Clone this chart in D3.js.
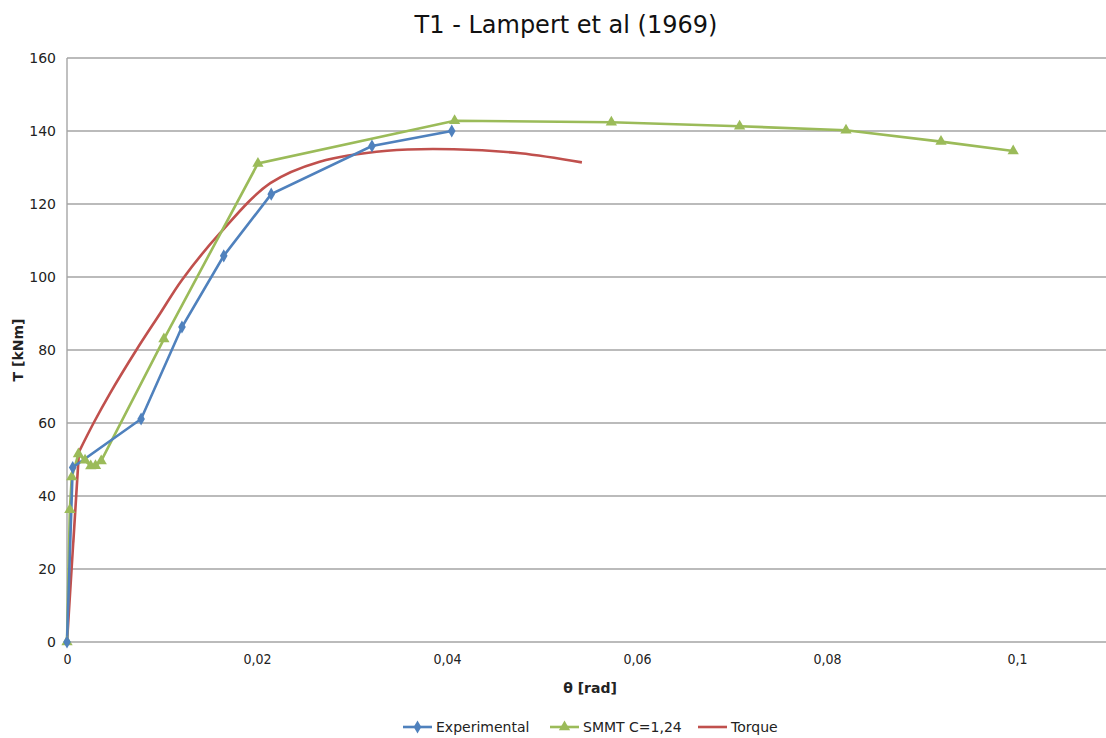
<!DOCTYPE html>
<html>
<head>
<meta charset="utf-8">
<script src="https://cdn.jsdelivr.net/npm/d3@7/dist/d3.min.js"></script>
<style>
  html, body { margin: 0; padding: 0; background: #fff; }
  svg { display: block; font-family: "DejaVu Sans", Verdana, sans-serif; }
</style>
</head>
<body>
<svg id="chart" width="1106" height="738"></svg>
<script>
// Rotation θ [rad] and torque T [kNm] for beam T1
const experimentalTheta = [0, 0.0006, 0.0078, 0.0121, 0.0165, 0.0215, 0.0321, 0.0405];
const experimentalT     = [0, 47.8, 61.1, 86.3, 105.8, 122.7, 135.9, 140.0];

const smmtTheta = [0, 0.0003, 0.0005, 0.0012, 0.0019, 0.0025, 0.0030, 0.0036, 0.0102, 0.0201, 0.0408, 0.0573, 0.0708, 0.0820, 0.0920, 0.0996];
const smmtT     = [0, 36.2, 45.2, 51.5, 49.8, 48.2, 48.3, 49.6, 83.0, 131.1, 142.8, 142.4, 141.3, 140.2, 137.1, 134.5];

const torqueTheta = [0, 0.00126, 0.0028, 0.0045, 0.0073, 0.0098, 0.0121, 0.0161, 0.0214, 0.0266, 0.0337, 0.0407, 0.0477, 0.0542];
const torqueT     = [0, 52.1, 60.0, 68.0, 80.0, 90.0, 99.2, 112.0, 125.7, 131.6, 134.6, 135.0, 133.9, 131.4];

const xTicks = [0, 0.02, 0.04, 0.06, 0.08, 0.1];
const yTicks = [0, 20, 40, 60, 80, 100, 120, 140, 160];

const seriesNames = ["Experimental", "SMMT C=1,24", "Torque"];
const colors = { blue: "#4f81bd", green: "#9bbb59", red: "#c0504d" };

const zip = (xs, ys) => xs.map((x, i) => ({ x, y: ys[i] }));
const experimental = zip(experimentalTheta, experimentalT);
const smmt = zip(smmtTheta, smmtT);
const torque = zip(torqueTheta, torqueT);

const svg = d3.select("#chart");
const plotLeft = 67, plotRight = 1112, plotTop = 58, plotBottom = 642;

const x = d3.scaleLinear().domain([0, 0.11]).range([plotLeft, plotRight]);
const y = d3.scaleLinear().domain([0, 160]).range([plotBottom, plotTop]);
const comma = d => d3.format("~g")(d).replace(".", ",");

// horizontal gridlines
svg.append("g")
  .selectAll("line")
  .data(yTicks)
  .join("line")
  .attr("x1", plotLeft).attr("x2", 1106)
  .attr("y1", d => y(d)).attr("y2", d => y(d))
  .attr("stroke", "#a5a5a5").attr("stroke-width", 1.4);

// vertical axis line
svg.append("line")
  .attr("x1", plotLeft).attr("x2", plotLeft).attr("y1", plotTop).attr("y2", plotBottom)
  .attr("stroke", "#a5a5a5").attr("stroke-width", 1.4);

// y axis labels
const yAxis = svg.append("g")
  .attr("transform", `translate(${plotLeft - 11},0)`)
  .call(d3.axisLeft(y).tickValues(yTicks).tickSize(0).tickPadding(0));
yAxis.select(".domain").remove();
yAxis.selectAll("text")
  .attr("font-family", "DejaVu Sans, sans-serif")
  .attr("font-size", 14).attr("fill", "#222");

// x axis labels
const xAxis = svg.append("g")
  .attr("transform", `translate(0,${plotBottom + 12})`)
  .call(d3.axisBottom(x).tickValues(xTicks).tickFormat(comma).tickSize(0).tickPadding(0));
xAxis.select(".domain").remove();
xAxis.selectAll("text")
  .attr("font-family", "DejaVu Sans Condensed, DejaVu Sans, sans-serif")
  .attr("font-size", 14).attr("fill", "#222");

// titles
svg.append("text")
  .attr("x", 566).attr("y", 33)
  .attr("text-anchor", "middle")
  .attr("font-size", 24).attr("fill", "#111")
  .text("T1 - Lampert et al (1969)");

svg.append("text")
  .attr("x", 590).attr("y", 693)
  .attr("text-anchor", "middle")
  .attr("font-size", 14).attr("font-weight", "bold").attr("fill", "#222")
  .text("θ  [rad]");

svg.append("text")
  .attr("transform", "translate(23,350) rotate(-90)")
  .attr("text-anchor", "middle")
  .attr("font-size", 14).attr("font-weight", "bold").attr("fill", "#222")
  .text("T  [kNm]");

// series
const straight = d3.line().x(d => x(d.x)).y(d => y(d.y));
const smooth = d3.line().x(d => x(d.x)).y(d => y(d.y)).curve(d3.curveCatmullRom.alpha(0.5));

const plot = svg.append("g");

// torque curve: elastic branch is straight up to cracking, then a smooth curve
plot.append("path").datum(torque.slice(0, 2))
  .attr("d", straight).attr("fill", "none")
  .attr("stroke", colors.red).attr("stroke-width", 2.6);
plot.append("path").datum(torque.slice(1))
  .attr("d", smooth).attr("fill", "none")
  .attr("stroke", colors.red).attr("stroke-width", 2.6);

plot.append("path").datum(smmt)
  .attr("d", straight).attr("fill", "none")
  .attr("stroke", colors.green).attr("stroke-width", 2.6);

plot.append("path").datum(experimental)
  .attr("d", straight).attr("fill", "none")
  .attr("stroke", colors.blue).attr("stroke-width", 2.6);

const triangle = d3.symbol().type(d3.symbolTriangle).size(55);
const diamond = d3.symbol().type(d3.symbolDiamond).size(50);

plot.append("g").selectAll("path")
  .data(smmt).join("path")
  .attr("transform", d => `translate(${x(d.x)},${y(d.y)})`)
  .attr("d", triangle).attr("fill", colors.green);

plot.append("g").selectAll("path")
  .data(experimental).join("path")
  .attr("transform", d => `translate(${x(d.x)},${y(d.y)})`)
  .attr("d", diamond).attr("fill", colors.blue);

// legend
const legendItems = [
  { name: seriesNames[0], color: colors.blue, marker: diamond, x0: 403 },
  { name: seriesNames[1], color: colors.green, marker: triangle, x0: 550 },
  { name: seriesNames[2], color: colors.red, marker: null, x0: 698 }
];
const ly = 727;
const legend = svg.append("g");
legendItems.forEach(it => {
  legend.append("line")
    .attr("x1", it.x0).attr("x2", it.x0 + 29).attr("y1", ly).attr("y2", ly)
    .attr("stroke", it.color).attr("stroke-width", 2.6);
  if (it.marker) {
    legend.append("path")
      .attr("transform", `translate(${it.x0 + 14.5},${ly})`)
      .attr("d", it.marker).attr("fill", it.color);
  }
  legend.append("text")
    .attr("x", it.x0 + 33).attr("y", ly + 5)
    .attr("font-size", 14).attr("fill", "#222")
    .text(it.name);
});
</script>
</body>
</html>
